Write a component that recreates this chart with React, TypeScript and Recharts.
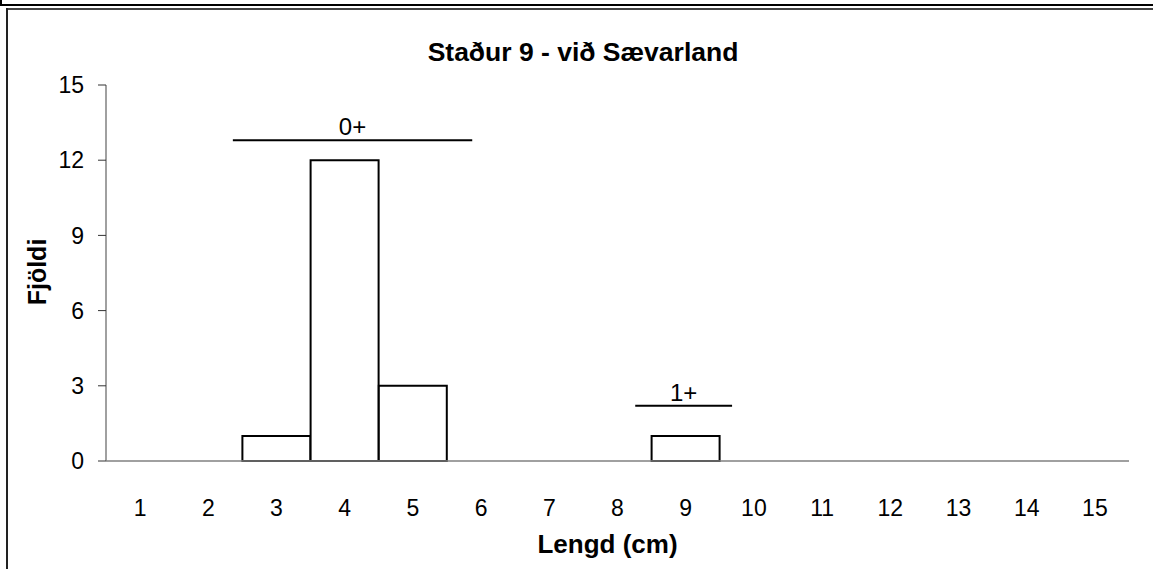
import React from 'react';
import { BarChart, Bar, XAxis, YAxis, ReferenceLine } from 'recharts';

// length classes (cm) and fish counts
const lengths = [1, 2, 3, 4, 5, 6, 7, 8, 9, 10, 11, 12, 13, 14, 15];
const counts = [0, 0, 1, 12, 3, 0, 0, 0, 1, 0, 0, 0, 0, 0, 0];
const yTicks = [0, 3, 6, 9, 12, 15];
const classBounds = [0.5, 1.5, 2.5, 3.5, 4.5, 5.5, 6.5, 7.5, 8.5, 9.5, 10.5, 11.5, 12.5, 13.5, 14.5, 15.5];

// age group markers: [from, to] along length axis, height on count axis
const ageGroups = [
  { name: '0+', from: 2.36, to: 5.87, y: 12.8 },
  { name: '1+', from: 8.26, to: 9.68, y: 2.2 },
];

const data = lengths.map((l, i) => ({ lengd: l, fjoldi: counts[i] }));

const FONT = '"Liberation Sans", Arial, sans-serif';

const YTitle = (props: any) => {
  const { viewBox } = props;
  const cx = viewBox.x + 31;
  const cy = viewBox.y + viewBox.height / 2 - 1;
  return (
    <text x={cx} y={cy} transform={`rotate(-90, ${cx}, ${cy})`} textAnchor="middle" dominantBaseline="central"
      fontSize={25} fontWeight="bold" fill="#000">
      Fjöldi
    </text>
  );
};

const XTitle = (props: any) => {
  const { viewBox } = props;
  return (
    <text x={viewBox.x + viewBox.width / 2 - 10} y={viewBox.y + 82} textAnchor="middle"
      fontSize={26} fontWeight="bold" fill="#000">
      Lengd (cm)
    </text>
  );
};

const App = () => {
  return (
    <div style={{ position: 'absolute', left: 0, top: 0, width: 1153, height: 569, background: '#fff', fontFamily: FONT }}>
      {/* frame of the previous chart and of this one */}
      <div style={{ position: 'absolute', left: 0, top: 0, width: 1.5, height: 5, background: '#000' }} />
      <div style={{ position: 'absolute', left: 0, top: 4, width: 1153, height: 2, background: '#000' }} />
      <div style={{ position: 'absolute', left: 6, top: 8, width: 1147, height: 1.5, background: '#444' }} />
      <div style={{ position: 'absolute', left: 6, top: 8, width: 1.5, height: 561, background: '#222' }} />

      <div style={{ position: 'absolute', left: 333, width: 500, top: 39, lineHeight: '26px', textAlign: 'center', fontSize: 26.5, fontWeight: 'bold', color: '#000' }}>
        Staður 9 - við Sævarland
      </div>

      <div style={{ position: 'absolute', left: 0, top: 0 }}>
        <BarChart width={1153} height={569} data={data} margin={{ top: 85, right: 24, bottom: 28, left: 6 }}
          barCategoryGap={0} barGap={0} style={{ fontFamily: FONT }}>
          <XAxis xAxisId="bounds" dataKey="lengd" type="number" domain={[0.5, 15.5]} ticks={classBounds}
            height={10} tick={false} tickSize={8} tickLine={{ stroke: '#333' }} axisLine={{ stroke: '#808080', strokeWidth: 1.5 }} />
          <XAxis xAxisId="lbl" dataKey="lengd" type="number" domain={[0.5, 15.5]} ticks={lengths}
            height={70} tickSize={0} tickMargin={29} tickLine={false} axisLine={false} interval={0}
            tick={{ fill: '#000', fontSize: 23 }} label={<XTitle />} />
          <YAxis type="number" domain={[0, 15]} ticks={yTicks} width={100} tickSize={8} tickMargin={14}
            tick={{ fill: '#000', fontSize: 23 }} tickLine={{ stroke: '#333' }} axisLine={{ stroke: '#808080', strokeWidth: 1.5 }}
            label={<YTitle />} />
          <Bar xAxisId="lbl" dataKey="fjoldi" fill="#fff" stroke="#000" strokeWidth={2} isAnimationActive={false} />
          {ageGroups.map((g) => (
            <ReferenceLine key={g.name} xAxisId="lbl" segment={[{ x: g.from, y: g.y }, { x: g.to, y: g.y }]}
              stroke="#000" strokeWidth={2}
              label={{ value: g.name, position: 'top', fill: '#000', fontSize: 24 }} />
          ))}
        </BarChart>
      </div>
    </div>
  );
};

export default App;
